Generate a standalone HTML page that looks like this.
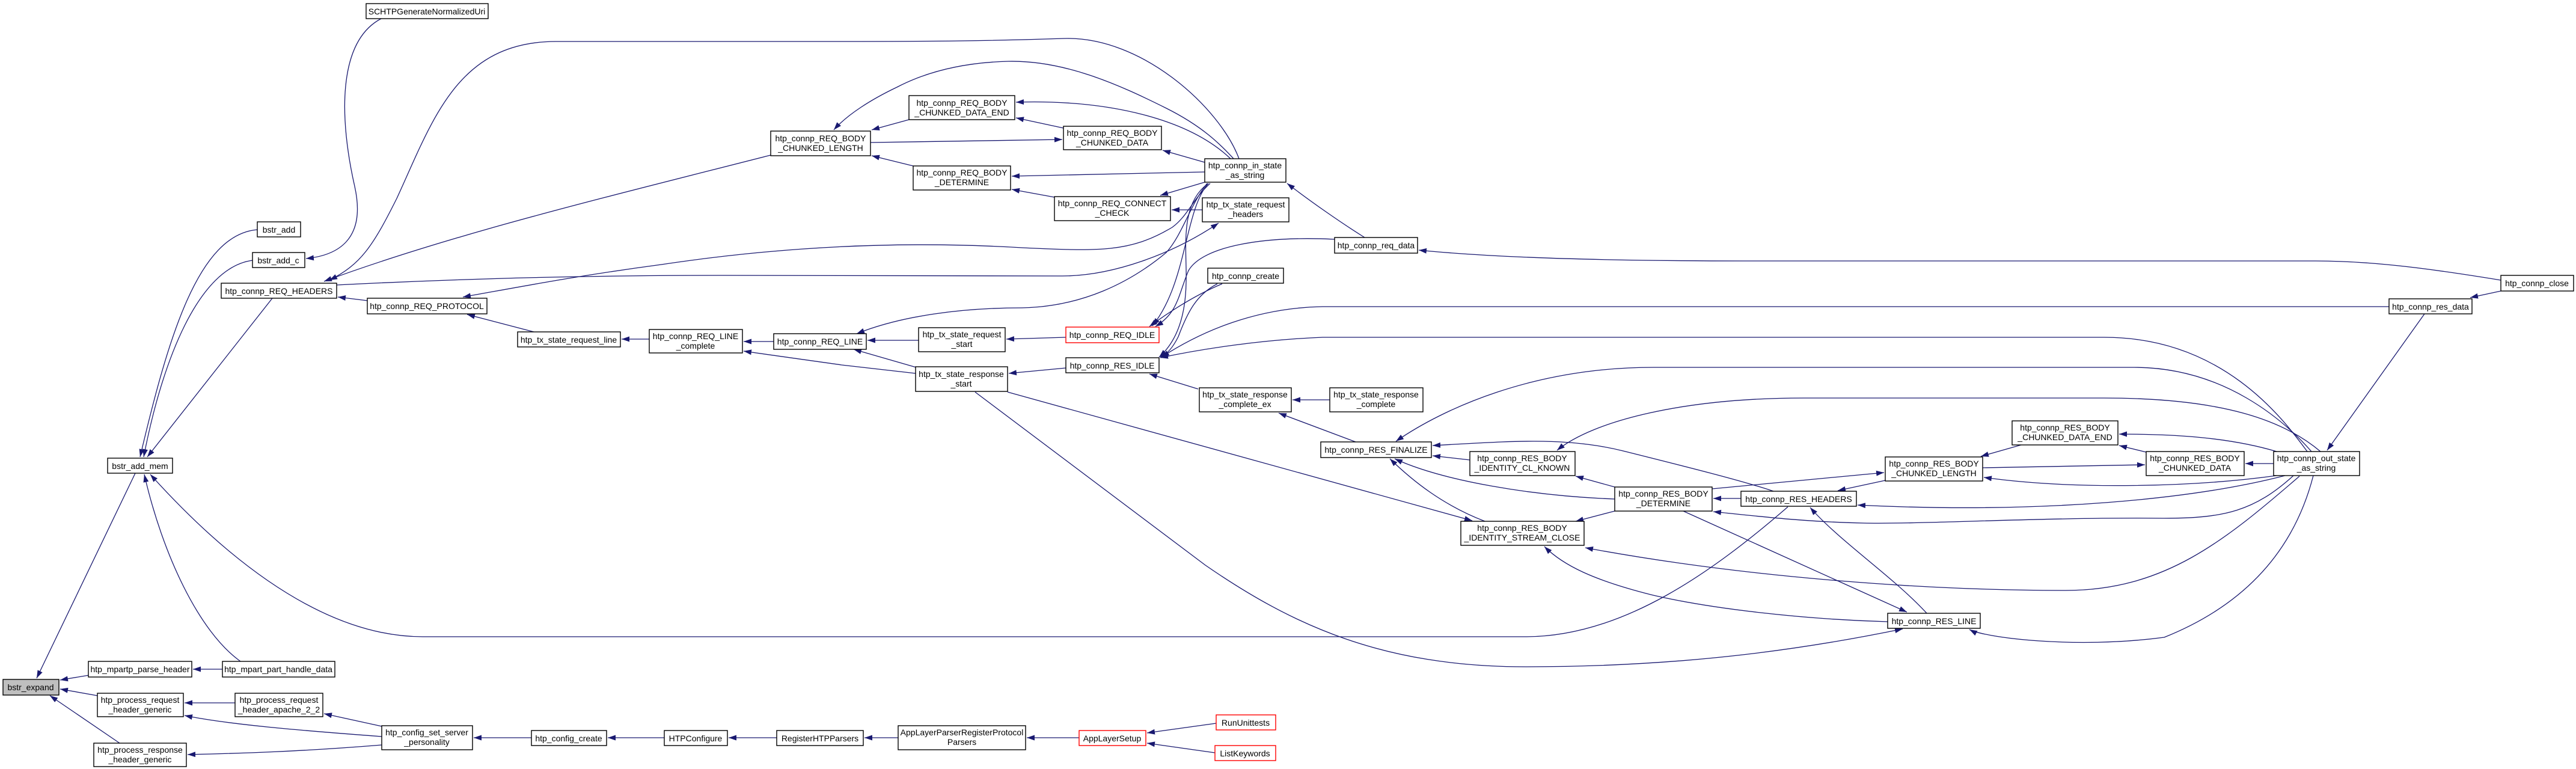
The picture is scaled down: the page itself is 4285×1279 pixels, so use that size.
<!DOCTYPE html>
<html><head><meta charset="utf-8"><style>
html,body{margin:0;padding:0;background:#fff;}
svg{display:block;}
text{font-family:"Liberation Sans",sans-serif;font-size:14px;fill:#000;text-anchor:middle;}
.e{fill:none;stroke:#191970;stroke-width:1.3;}
.n{fill:#fff;stroke:#000;stroke-width:1.4;}
.r{fill:#fff;stroke:#ff0000;stroke-width:1.4;}
</style></head><body>
<svg width="4285" height="1279" viewBox="0 0 4285 1279" xmlns="http://www.w3.org/2000/svg">
<defs><marker id="a" viewBox="0 0 10 10" refX="10" refY="5" markerWidth="13" markerHeight="9" markerUnits="userSpaceOnUse" orient="auto" preserveAspectRatio="none"><path d="M0,0 L10,5 L0,10 z" fill="#191970"/></marker></defs>
<g class="e" marker-end="url(#a)">
<path d="M225,787 L61,1128"/>
<path d="M154,1122 L100,1131"/>
<path d="M162,1157 L100,1146"/>
<path d="M199,1236 L83,1157"/>
<path d="M428,382 C330,390 280,560 233,760"/>
<path d="M420,433 C330,445 270,600 239,760"/>
<path d="M453,496 L245,760"/>
<path d="M400,1100 C330,1050 270,920 240,789"/>
<path d="M2974,843 C2850,950 2700,1059 2538,1059 L703,1059 C520,1059 350,900 250,789"/>
<path d="M634,31 C560,70 565,200 590,310 C610,400 560,425 509,430"/>
<path d="M370,1113 L321,1113"/>
<path d="M391,1169 L307,1169"/>
<path d="M635,1225 C500,1215 380,1205 307,1190"/>
<path d="M635,1239 C500,1250 400,1253 312,1255"/>
<path d="M635,1208 L539,1187"/>
<path d="M884,1227 L788,1227"/>
<path d="M1105,1227 L1011,1227"/>
<path d="M1292,1227 L1212,1227"/>
<path d="M1494,1227 L1438,1227"/>
<path d="M1795,1227 L1708,1227"/>
<path d="M2023,1203 L1908,1219"/>
<path d="M2021,1252 L1908,1236"/>
<path d="M611,500 L562,494"/>
<path d="M1282,258 C1000,330 750,390 539,468"/>
<path d="M2061,264 C2030,180 1900,60 1770,64 C1650,68 1550,69 1400,69 L925,69 C760,69 720,200 660,330 C620,410 600,440 548,466"/>
<path d="M560,474 C800,462 1000,458 1200,458 L1767,459 C1850,459 1950,423 2027,371"/>
<path d="M2013,305 C1985,330 1975,360 1950,378 C1880,420 1830,418 1700,412 C1500,400 1300,410 1100,440 C950,460 850,480 770,494"/>
<path d="M2008,305 C1980,340 1967,390 1940,420 C1880,470 1800,510 1700,512 C1600,512 1500,525 1425,555"/>
<path d="M888,552 L777,523"/>
<path d="M1080,564 L1034,564"/>
<path d="M1287,568 L1237,568"/>
<path d="M1523,621 L1400,607 L1237,584"/>
<path d="M1524,611 L1420,581"/>
<path d="M1528,566 L1443,566"/>
<path d="M1773,561 L1674,564"/>
<path d="M1773,612 L1678,621"/>
<path d="M2052,264 C2030,240 2000,210 1940,180 C1860,140 1770,100 1677,102 C1600,104 1540,120 1492,145 C1450,165 1410,190 1387,216"/>
<path d="M1512,199 L1450,216"/>
<path d="M1448,237 L1767,232"/>
<path d="M1519,276 L1450,259"/>
<path d="M2047,264 C1980,200 1850,165 1690,170"/>
<path d="M1769,213 L1690,196"/>
<path d="M2004,270 L1934,250"/>
<path d="M2004,286 L1683,293"/>
<path d="M1754,328 L1683,315"/>
<path d="M2004,303 L1930,325"/>
<path d="M2000,349 L1949,349"/>
<path d="M2270,395 C2230,370 2180,335 2141,305"/>
<path d="M4160,466 C4050,448 3950,434 3852,434 L2900,434 C2600,434 2450,425 2360,416"/>
<path d="M2010,305 C1970,350 1975,470 1917,542"/>
<path d="M2033,472 C1990,490 1950,515 1912,543"/>
<path d="M2220,398 C2100,392 2000,410 1977,450 C1960,490 1960,520 1922,543"/>
<path d="M2010,305 C1960,340 1975,420 1973,470 C1972,530 1955,570 1928,594"/>
<path d="M2025,472 C1990,490 1975,520 1960,560 C1950,580 1940,590 1930,594"/>
<path d="M3974,510 L2200,510 C2090,512 2000,550 1932,594"/>
<path d="M3838,751 C3800,700 3700,561 3500,561 L2200,561 C2100,565 2000,580 1930,595"/>
<path d="M1993,647 L1912,622"/>
<path d="M2212,665 L2150,665"/>
<path d="M2255,735 L2127,687"/>
<path d="M1676,652 L2449,866"/>
<path d="M1622,652 L2005,940 C2150,1040 2300,1109 2538,1109 C2800,1109 3000,1080 3165,1046"/>
<path d="M3845,751 C3800,700 3700,611 3550,611 L2750,611 C2550,611 2400,680 2322,734"/>
<path d="M3860,751 C3800,700 3700,662 3500,662 L3000,662 C2800,662 2650,700 2590,749"/>
<path d="M2950,817 C2900,800 2800,775 2700,750 C2600,725 2500,735 2383,741"/>
<path d="M2445,765 L2383,758"/>
<path d="M2686,830 C2550,825 2400,800 2320,763"/>
<path d="M2470,867 C2400,840 2350,800 2312,763"/>
<path d="M2686,810 L2621,792"/>
<path d="M2686,850 L2621,867"/>
<path d="M3825,792 C3700,900 3600,982 3436,982 C3200,982 2900,960 2637,911"/>
<path d="M3140,1034 C3000,1030 2850,1013 2750,990 C2650,965 2600,940 2569,909"/>
<path d="M2896,829 L2850,829"/>
<path d="M2800,850 L3172,1018"/>
<path d="M3205,1020 C3150,960 3060,900 3011,844"/>
<path d="M2848,813 L3134,786"/>
<path d="M3136,799 L3057,816"/>
<path d="M3298,778 L3568,773"/>
<path d="M3362,740 L3295,759"/>
<path d="M3787,751 C3700,725 3600,722 3525,722"/>
<path d="M3570,752 L3525,741"/>
<path d="M3782,771 L3735,771"/>
<path d="M3787,791 C3650,810 3450,815 3300,794"/>
<path d="M3801,791 C3650,830 3400,855 3090,840"/>
<path d="M3815,791 C3750,850 3700,862 3600,862 C3400,860 3200,872 3100,870 C3000,868 2920,858 2850,851"/>
<path d="M3848,791 C3820,900 3750,1000 3600,1060 C3450,1080 3300,1060 3276,1047"/>
<path d="M4033,522 L3871,749"/>
<path d="M4160,484 L4109,495"/>
</g>
<g>
<rect class="n" x="609" y="6" width="203" height="25"/><text x="710" y="24">SCHTPGenerateNormalizedUri</text>
<rect class="n" x="428" y="369" width="72" height="25"/><text x="464" y="387">bstr_add</text>
<rect class="n" x="420" y="420" width="87" height="25"/><text x="463" y="438">bstr_add_c</text>
<rect class="n" x="368" y="471" width="192" height="25"/><text x="464" y="489">htp_connp_REQ_HEADERS</text>
<rect class="n" x="611" y="496" width="199" height="26"/><text x="710" y="514">htp_connp_REQ_PROTOCOL</text>
<rect class="n" x="861" y="552" width="171" height="25"/><text x="946" y="570">htp_tx_state_request_line</text>
<rect class="n" x="1080" y="548" width="155" height="39"/><text x="1157" y="564">htp_connp_REQ_LINE</text><text x="1157" y="580">_complete</text>
<rect class="n" x="1287" y="555" width="154" height="26"/><text x="1364" y="573">htp_connp_REQ_LINE</text>
<rect class="n" x="1282" y="218" width="166" height="41"/><text x="1365" y="235">htp_connp_REQ_BODY</text><text x="1365" y="251">_CHUNKED_LENGTH</text>
<rect class="n" x="1512" y="159" width="176" height="40"/><text x="1600" y="176">htp_connp_REQ_BODY</text><text x="1600" y="192">_CHUNKED_DATA_END</text>
<rect class="n" x="1769" y="210" width="163" height="39"/><text x="1850" y="226">htp_connp_REQ_BODY</text><text x="1850" y="242">_CHUNKED_DATA</text>
<rect class="n" x="1519" y="276" width="162" height="40"/><text x="1600" y="292">htp_connp_REQ_BODY</text><text x="1600" y="308">_DETERMINE</text>
<rect class="n" x="1754" y="327" width="193" height="40"/><text x="1850" y="343">htp_connp_REQ_CONNECT</text><text x="1850" y="359">_CHECK</text>
<rect class="n" x="2004" y="264" width="135" height="39"/><text x="2071" y="280">htp_connp_in_state</text><text x="2071" y="296">_as_string</text>
<rect class="n" x="2000" y="329" width="144" height="40"/><text x="2072" y="345">htp_tx_state_request</text><text x="2072" y="361">_headers</text>
<rect class="n" x="2220" y="395" width="138" height="26"/><text x="2289" y="413">htp_connp_req_data</text>
<rect class="n" x="2009" y="446" width="126" height="25"/><text x="2072" y="464">htp_connp_create</text>
<rect class="r" x="1773" y="544" width="155" height="26"/><text x="1850" y="562">htp_connp_REQ_IDLE</text>
<rect class="n" x="1528" y="545" width="144" height="40"/><text x="1600" y="561">htp_tx_state_request</text><text x="1600" y="577">_start</text>
<rect class="n" x="1773" y="595" width="155" height="25"/><text x="1850" y="613">htp_connp_RES_IDLE</text>
<rect class="n" x="1523" y="610" width="153" height="41"/><text x="1599" y="627">htp_tx_state_response</text><text x="1599" y="643">_start</text>
<rect class="n" x="1995" y="645" width="153" height="40"/><text x="2071" y="661">htp_tx_state_response</text><text x="2071" y="677">_complete_ex</text>
<rect class="n" x="2212" y="645" width="155" height="40"/><text x="2289" y="661">htp_tx_state_response</text><text x="2289" y="677">_complete</text>
<rect class="n" x="2197" y="735" width="184" height="26"/><text x="2289" y="753">htp_connp_RES_FINALIZE</text>
<rect class="n" x="2445" y="751" width="175" height="40"/><text x="2532" y="767">htp_connp_RES_BODY</text><text x="2532" y="783">_IDENTITY_CL_KNOWN</text>
<rect class="n" x="2686" y="810" width="162" height="40"/><text x="2767" y="826">htp_connp_RES_BODY</text><text x="2767" y="842">_DETERMINE</text>
<rect class="n" x="2430" y="867" width="205" height="40"/><text x="2532" y="883">htp_connp_RES_BODY</text><text x="2532" y="899">_IDENTITY_STREAM_CLOSE</text>
<rect class="n" x="2896" y="817" width="192" height="25"/><text x="2992" y="835">htp_connp_RES_HEADERS</text>
<rect class="n" x="3136" y="760" width="162" height="40"/><text x="3217" y="776">htp_connp_RES_BODY</text><text x="3217" y="792">_CHUNKED_LENGTH</text>
<rect class="n" x="3347" y="700" width="176" height="40"/><text x="3435" y="716">htp_connp_RES_BODY</text><text x="3435" y="732">_CHUNKED_DATA_END</text>
<rect class="n" x="3570" y="751" width="163" height="40"/><text x="3651" y="767">htp_connp_RES_BODY</text><text x="3651" y="783">_CHUNKED_DATA</text>
<rect class="n" x="3782" y="751" width="143" height="40"/><text x="3853" y="767">htp_connp_out_state</text><text x="3853" y="783">_as_string</text>
<rect class="n" x="3140" y="1020" width="154" height="25"/><text x="3217" y="1038">htp_connp_RES_LINE</text>
<rect class="n" x="3974" y="497" width="138" height="25"/><text x="4043" y="515">htp_connp_res_data</text>
<rect class="n" x="4160" y="458" width="121" height="26"/><text x="4220" y="476">htp_connp_close</text>
<rect class="n" x="179" y="762" width="108" height="25"/><text x="233" y="780">bstr_add_mem</text>
<rect x="5" y="1130" width="93" height="26" fill="#bfbfbf" stroke="#000" stroke-width="1.4"/><text x="51" y="1148">bstr_expand</text>
<rect class="n" x="147" y="1100" width="172" height="26"/><text x="233" y="1118">htp_mpartp_parse_header</text>
<rect class="n" x="370" y="1100" width="187" height="26"/><text x="463" y="1118">htp_mpart_part_handle_data</text>
<rect class="n" x="162" y="1153" width="143" height="39"/><text x="233" y="1169">htp_process_request</text><text x="233" y="1185">_header_generic</text>
<rect class="n" x="391" y="1153" width="146" height="39"/><text x="464" y="1169">htp_process_request</text><text x="464" y="1185">_header_apache_2_2</text>
<rect class="n" x="156" y="1236" width="154" height="39"/><text x="233" y="1252">htp_process_response</text><text x="233" y="1268">_header_generic</text>
<rect class="n" x="635" y="1207" width="151" height="40"/><text x="710" y="1223">htp_config_set_server</text><text x="710" y="1239">_personality</text>
<rect class="n" x="884" y="1215" width="125" height="25"/><text x="946" y="1233">htp_config_create</text>
<rect class="n" x="1105" y="1215" width="105" height="25"/><text x="1157" y="1233">HTPConfigure</text>
<rect class="n" x="1292" y="1215" width="144" height="25"/><text x="1364" y="1233">RegisterHTPParsers</text>
<rect class="n" x="1494" y="1207" width="212" height="40"/><text x="1600" y="1223">AppLayerParserRegisterProtocol</text><text x="1600" y="1239">Parsers</text>
<rect class="r" x="1795" y="1215" width="111" height="25"/><text x="1850" y="1233">AppLayerSetup</text>
<rect class="r" x="2023" y="1189" width="99" height="25"/><text x="2072" y="1207">RunUnittests</text>
<rect class="r" x="2021" y="1240" width="101" height="25"/><text x="2071" y="1258">ListKeywords</text>
</g>
</svg>
</body></html>
